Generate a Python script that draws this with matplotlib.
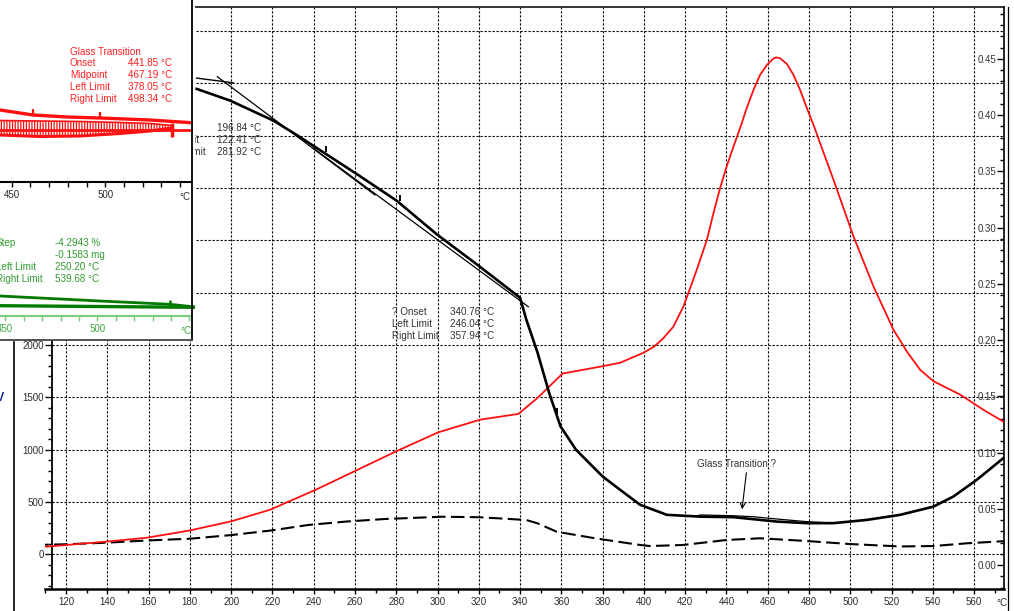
import numpy as np
import matplotlib
matplotlib.use("Agg")
import matplotlib.pyplot as plt
from matplotlib.ticker import MultipleLocator, FormatStrFormatter
from matplotlib.patches import Rectangle
from matplotlib.lines import Line2D

plt.rcParams['font.family'] = ['Liberation Sans', 'DejaVu Sans']
plt.rcParams['hatch.linewidth'] = 0.9

# main curves (temperature in degC)
red_T = [105.0, 110.6, 120.3, 139.7, 159.3, 179.7, 200.2, 218.7, 229.8, 240.9, 259.5, 279.9,
         300.3, 320.7, 339.2, 348.5, 360.6, 380.0, 388.5, 399.7, 404.9, 409.4, 414.3, 419.1,
         422.4, 425.6, 430.5, 433.7, 436.9, 440.1, 443.4, 446.6, 449.8, 453.1, 456.3, 459.6,
         462.8, 464.1, 466.0, 469.3, 472.5, 475.7, 479.0, 482.2, 485.4, 491.9, 501.6, 511.3,
         521.0, 527.5, 533.9, 540.4, 553.2, 564.4, 575.9]
red_val = [0.0187, 0.0163, 0.0178, 0.0208, 0.0243, 0.0306, 0.0389, 0.0490, 0.0579, 0.0668, 0.0831, 0.1010,
           0.1179, 0.1292, 0.1343, 0.1486, 0.1702, 0.1767, 0.1798, 0.1886, 0.1941, 0.2015, 0.2119, 0.2296,
           0.2460, 0.2623, 0.2889, 0.3127, 0.3349, 0.3541, 0.3719, 0.3882, 0.4060, 0.4223, 0.4356, 0.4445,
           0.4502, 0.4512, 0.4504, 0.4454, 0.4356, 0.4223, 0.4060, 0.3912, 0.3749, 0.3423, 0.2919, 0.2474,
           0.2089, 0.1896, 0.1734, 0.1633, 0.1515, 0.1381, 0.1256]

blk_T = [183.3, 199.5, 220.5, 231.8, 244.7, 260.9, 280.3, 299.6, 319.0, 336.8, 340.0, 343.0,
         348.5, 354.1, 359.6, 367.1, 380.0, 388.5, 398.2, 411.1, 427.2, 443.4, 453.1, 464.4,
         479.0, 491.9, 508.1, 524.2, 540.3, 550.0, 561.3, 575.0]
blk_val = [0.4232, 0.4128, 0.3950, 0.3822, 0.3668, 0.3475, 0.3237, 0.2940, 0.2673, 0.2421, 0.2376, 0.2183,
           0.1886, 0.1530, 0.1232, 0.1025, 0.0787, 0.0668, 0.0535, 0.0446, 0.0430, 0.0425, 0.0407, 0.0386,
           0.0372, 0.0372, 0.0401, 0.0446, 0.0519, 0.0609, 0.0757, 0.0962]

# second trace around the "glass transition ?"
gt_T = [425.6, 427.2, 443.4, 453.1, 464.4, 479.0, 488.7]
gt_val = [0.0431, 0.0445, 0.0438, 0.0429, 0.0409, 0.0385, 0.0376]

dash_T = [105.0, 120.3, 139.7, 159.1, 180.1, 200.2, 219.1, 237.3, 255.8, 274.3, 302.1, 320.6,
          342.9, 348.5, 357.7, 376.3, 398.2, 403.0, 419.0, 440.2, 456.3, 478.9, 499.9, 524.2,
          540.3, 556.5, 575.9]
dash_val = [89, 96, 111, 132, 149, 184, 227, 280, 313, 337, 359, 354,
            328, 296, 216, 153, 89, 79, 89, 137, 153, 127, 98, 75,
            79, 105, 127]

# evaluation lines (start/end)
base_T = [183.3, 201.1]
base_val = [0.4328, 0.4286]
tanB_T = [193.3, 269.7]
tanB_val = [0.4341, 0.3289]
tanC_T = [239.9, 344.0]
tanC_val = [0.3704, 0.2296]
limit_marks = [246.04, 281.92, 357.94]

# red inset (glass transition zoom)
ri_line_T = [443.7, 461.4, 479.6, 497.2, 524.0, 546.0]
ri_line_val = [0.72, 0.67, 0.65, 0.64, 0.62, 0.593]
ri_hatch_T = [443.7, 465.1, 486.5, 507.9, 523.9, 535.7]
ri_hatch_top = [0.615, 0.61, 0.605, 0.595, 0.585, 0.565]
ri_hatch_bot = [0.47, 0.455, 0.46, 0.485, 0.51, 0.54]
ri_base_T = [443.7, 546.0]
ri_base_val = [0.52, 0.52]

# green inset (step)
gi_up_T = [447.1, 501.4, 539.5, 553.1]
gi_up_val = [0.20, 0.15, 0.117, 0.09]
gi_lo_T = [447.1, 553.1]
gi_lo_val = [0.103, 0.087]

W, H = 1014, 611
fig = plt.figure(figsize=(W / 100, H / 100), dpi=100)


def fx(x):
    return x / W


def fy(y):
    return 1 - y / H


dot = (0, (2, 1.6))
lab_col = '#2a2a2a'

ax = fig.add_axes([fx(45), fy(589), fx(1004) - fx(45), fy(7) - fy(589)])
ax.set_xlim(109.8, 574.5)
ax.set_ylim(-331.6, 5230)
ax2 = ax.twinx()
ax2.set_ylim(-0.02133, 0.4960)

# grid
ax.set_xticks(np.arange(120, 561, 20))
ax.xaxis.set_minor_locator(MultipleLocator(10))
ax.set_yticks(np.arange(0, 5001, 500))
ax.yaxis.set_minor_locator(MultipleLocator(100))
ax.grid(axis='x', which='major', color='k', linestyle=dot, linewidth=0.8)
ax.hlines(ax.get_yticks(), 113.2, 574.5, color='k', linestyle=dot, linewidth=0.8, zorder=0.5)

ax.spines['left'].set_position(('data', 113.2))
ax.spines['left'].set_linewidth(1.3)
ax.spines['bottom'].set_linewidth(1.8)
ax.spines['top'].set_linewidth(1.1)
ax.spines['right'].set_visible(False)
ax.tick_params(axis='y', which='major', direction='out', length=5, width=1, labelsize=7, pad=1, colors='k', labelcolor=lab_col)
ax.tick_params(axis='y', which='minor', direction='out', length=3, width=1)
ax.tick_params(axis='x', which='major', direction='out', length=3.5, width=1, labelsize=7, pad=2.5, labelcolor=lab_col)
ax.tick_params(axis='x', which='minor', direction='out', length=3, width=1)

for s in ['left', 'top', 'bottom']:
    ax2.spines[s].set_visible(False)
ax2.spines['right'].set_linewidth(1.2)
ax2.set_yticks(np.arange(0, 0.46, 0.05))
ax2.yaxis.set_major_formatter(FormatStrFormatter('%.2f'))
ax2.yaxis.set_minor_locator(MultipleLocator(0.01))
ax2.tick_params(axis='y', which='major', direction='in', length=5, width=1, labelsize=7, pad=-5.3, labelcolor='#333333')
ax2.tick_params(axis='y', which='minor', direction='in', length=3, width=1)
for t in ax2.yaxis.get_major_ticks():
    t.label2.set_horizontalalignment('right')

# curves
ax.plot(dash_T, dash_val, color='k', lw=1.5, dashes=(6.5, 2.6), zorder=2)
ax2.plot(red_T, red_val, color='#ff1010', lw=1.3, zorder=3)
ax2.plot(blk_T, blk_val, color='k', lw=1.9, zorder=4)
ax2.plot(gt_T, gt_val, color='k', lw=0.9, zorder=4)
ax2.plot(base_T, base_val, color='k', lw=1.0, zorder=4)
ax2.plot(tanB_T, tanB_val, color='k', lw=0.9, zorder=4)
ax2.plot(tanC_T, tanC_val, color='k', lw=0.9, zorder=4)
ax2.plot(limit_marks, np.interp(limit_marks, blk_T, blk_val) + 0.002, ls='none',
         marker=2, ms=4, mew=1.4, color='k', zorder=4)

# main annotations
txt = dict(fontsize=7.1, color='#333333', va='center', ha='left')
for i, (a, b) in enumerate([('Onset', '196.84 °C'), ('Left Limit', '122.41 °C'), ('Right Limit', '281.92 °C')]):
    fig.text(fx(159), fy(128.3 + 12 * i), a, **txt)
    fig.text(fx(217), fy(128.3 + 12 * i), b, **txt)
for i, (a, b) in enumerate([('? Onset', '340.76 °C'), ('Left Limit', '246.04 °C'), ('Right Limit', '357.94 °C')]):
    fig.text(fx(391.7), fy(312.3 + 12 * i), a, **txt)
    fig.text(fx(450), fy(312.3 + 12 * i), b, **txt)
fig.text(fx(696.7), fy(464), 'Glass Transition ?', **txt)
ax2.annotate('', xy=(fx(741.7), fy(512)), xytext=(fx(746.7), fy(470)), xycoords='figure fraction',
             arrowprops=dict(arrowstyle='->', color='k', lw=0.8, mutation_scale=9))
fig.text(fx(1002), fy(603), '°C', fontsize=7, color=lab_col, ha='center', va='center')

# right double border and the left window line
fig.add_artist(Line2D([fx(1007.5), fx(1007.5)], [fy(7), 0], transform=fig.transFigure, color='k', lw=0.9))
fig.add_artist(Line2D([fx(14.3), fx(14.3)], [fy(342), 0], transform=fig.transFigure, color='k', lw=1.2))
fig.text(fx(-4), fy(398), 'V', color='#1a2aa0', fontsize=9, fontweight='bold', ha='left', va='center')

# inset panel background
fig.add_artist(Rectangle((0, fy(340)), fx(195), 1 - fy(340), transform=fig.transFigure,
                         facecolor='white', edgecolor='none', zorder=5))
fig.add_artist(Line2D([fx(191.5), fx(191.5)], [1, fy(340)], transform=fig.transFigure, color='k', lw=1.3, zorder=8))
fig.add_artist(Line2D([0, fx(191.5)], [fy(340), fy(340)], transform=fig.transFigure, color='#444444', lw=1.3, zorder=8))

# red inset
axr = fig.add_axes([0, fy(182), fx(191), fy(0) - fy(182)], zorder=6)
axr.patch.set_visible(False)
axr.set_xlim(443.7, 545.9)
axr.set_ylim(0, 1.82)
for s in ['left', 'right', 'top']:
    axr.spines[s].set_visible(False)
axr.spines['bottom'].set_linewidth(1.5)
axr.set_yticks([])
axr.set_xticks([450, 500])
axr.xaxis.set_minor_locator(MultipleLocator(10))
axr.tick_params(axis='x', which='both', direction='out', length=3.6, width=1, labelsize=7, pad=2.5, labelcolor=lab_col)
axr.fill_between(ri_hatch_T, ri_hatch_bot, ri_hatch_top, facecolor='none', edgecolor='#ff1010', hatch='|' * 6, lw=0)
axr.plot(ri_hatch_T, ri_hatch_top, color='#ff1010', lw=1.2)
axr.plot(ri_hatch_T, ri_hatch_bot, color='#ff1010', lw=2.2)
axr.plot(ri_line_T, ri_line_val, color='#ff1010', lw=2.4, clip_on=False)
axr.plot(ri_base_T, ri_base_val, color='#ff1010', lw=2.0, clip_on=False)
axr.plot([ri_hatch_T[-1]], [ri_base_val[0]], ls='none', marker='|', ms=10, mew=2.5, color='#ff1010')
axr.plot([ri_line_T[1], ri_line_T[3]], [ri_line_val[1], ri_line_val[3]], ls='none',
         marker=2, ms=4, mew=1.6, color='#ff1010')
fig.text(fx(185), fy(197), '°C', fontsize=7, color=lab_col, ha='center', va='center', zorder=7)

red_txt = dict(fontsize=7.1, color='#ff2020', va='center', ha='left', zorder=7)
fig.text(fx(70), fy(51.7), 'Glass Transition', **red_txt)
for i, (a, b) in enumerate([('Onset', '441.85 °C'), ('Midpoint', '467.19 °C'),
                            ('Left Limit', '378.05 °C'), ('Right Limit', '498.34 °C')]):
    fig.text(fx(70), fy(63.5 + 12 * i), a, **red_txt)
    fig.text(fx(128.3), fy(63.5 + 12 * i), b, **red_txt)

# green inset
green_lab = '#3ca33c'
axg = fig.add_axes([0, fy(316), fx(195), fy(200) - fy(316)], zorder=6)
axg.patch.set_visible(False)
axg.set_xlim(447.1, 553.1)
axg.set_ylim(0, 1.16)
for s in ['left', 'right', 'top']:
    axg.spines[s].set_visible(False)
axg.spines['bottom'].set_color('#7acb7a')
axg.spines['bottom'].set_linewidth(1.5)
axg.spines['bottom'].set_bounds(447.1, 550.3)
axg.set_yticks([])
axg.set_xticks([450, 500])
axg.xaxis.set_minor_locator(MultipleLocator(10))
axg.tick_params(axis='x', which='both', direction='out', length=3.6, width=1, color='#7acb7a',
                labelsize=7, pad=2.5, labelcolor=green_lab)
axg.plot(gi_up_T, gi_up_val, color='#007a00', lw=2.0)
axg.plot(gi_lo_T, gi_lo_val, color='#007a00', lw=2.4)
axg.plot([539.68], [np.interp(539.68, gi_up_T, gi_up_val)], ls='none', marker='|', ms=6, mew=1.8, color='#007a00')
fig.text(fx(186), fy(331), '°C', fontsize=7, color=green_lab, ha='center', va='center', zorder=7)

g_txt = dict(fontsize=7.1, color='#2f9a2f', va='center', ha='left', zorder=7)
for i, (a, b) in enumerate([('Step', '-4.2943 %'), ('', '-0.1583 mg'),
                            ('Left Limit', '250.20 °C'), ('Right Limit', '539.68 °C')]):
    fig.text(fx(-4), fy(242.7 + 12 * i), a, **g_txt)
    fig.text(fx(55), fy(242.7 + 12 * i), b, **g_txt)

fig.savefig('out.png', dpi=100, facecolor='white')
